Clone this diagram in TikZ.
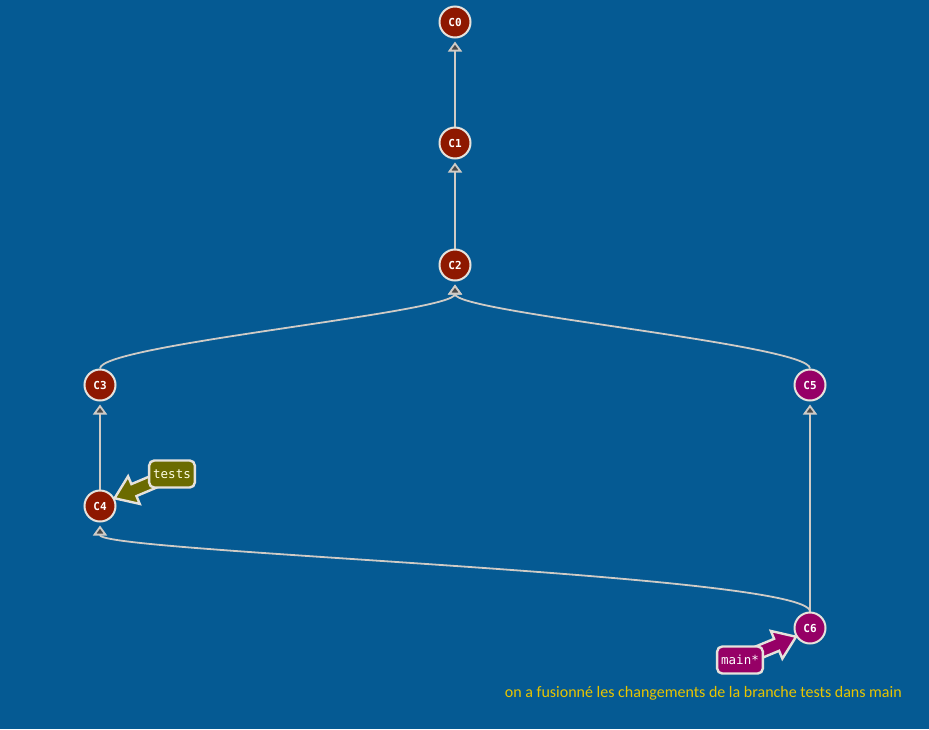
\documentclass[tikz,border=0pt]{standalone}
\usepackage{fontspec}
\setmainfont{Carlito}
\newfontfamily\monofont{DejaVu Sans Mono}
\usetikzlibrary{arrows.meta,calc}
\definecolor{bg}{HTML}{055A93}
\definecolor{cred}{HTML}{8E1800}
\definecolor{cmag}{HTML}{960066}
\definecolor{colive}{HTML}{6B6B00}
\definecolor{ring}{HTML}{E6E2DC}
\definecolor{edgec}{HTML}{CFCBC6}
\definecolor{tipc}{HTML}{4A4A4A}
\definecolor{capc}{HTML}{E8C400}
\pgfdeclarelayer{bgfill}
\pgfdeclarelayer{under}
\pgfsetlayers{bgfill,under,main}
\tikzset{
  commit/.style={circle, draw=ring, line width=2pt, minimum size=31pt, inner sep=0pt,
    text=white, font=\monofont\bfseries\fontsize{11}{11}\selectfont},
  oldc/.style={commit, fill=cred},
  newc/.style={commit, fill=cmag},
  link/.style={draw=edgec, line width=1.8pt, shorten >=3pt,
    -{Triangle[length=10pt,width=14pt,fill=tipc]}},
  lbl/.style={draw=ring, line width=2.4pt, rounded corners=5pt, inner xsep=4pt,
    minimum height=27pt, text=white, font=\monofont\fontsize{12.5}{13}\selectfont},
  fatarrow/.style={draw=ring, line width=2.4pt, line join=miter}
}
\begin{document}
\begin{tikzpicture}[x=1pt,y=-1pt]
\begin{pgfonlayer}{bgfill}
\fill[bg] (0,0) rectangle (929,729);
\end{pgfonlayer}
\useasboundingbox (0,0) rectangle (929,729);

\node[oldc] (C0) at (455,22) {C0};
\node[oldc] (C1) at (455,143) {C1};
\node[oldc] (C2) at (455,265) {C2};
\node[oldc] (C3) at (100,385) {C3};
\node[oldc] (C4) at (100,506) {C4};
\node[newc] (C5) at (810,385) {C5};
\node[newc] (C6) at (810,628) {C6};

\node[lbl, fill=colive, text=white!90!yellow] (tests) at (172,474) {tests};
\node[lbl, fill=cmag] (main) at (740,660) {main*};

\begin{pgfonlayer}{under}
\draw[link] (C1.north) -- (C0.south);
\draw[link] (C2.north) -- (C1.south);
\draw[link] (C3.north) .. controls +(0,-24) and +(0,31) .. (C2.south);
\draw[link] (C5.north) .. controls +(0,-24) and +(0,31) .. (C2.south);
\draw[link] (C4.north) -- (C3.south);
\draw[link] (C6.north) -- (C5.south);
\draw[link] (C6.north) .. controls +(0,-37) and +(0,30) .. (C4.south);

% label arrows
\coordinate (tT) at (C4.28);
\coordinate (tS) at (tests.center);
\coordinate (tA) at ($(tT)!21pt!(tS)$);
\filldraw[fatarrow, fill=colive]
  ($(tS)!6.5pt!90:(tT)$) -- ($(tA)!6.5pt!90:(tT)$) -- ($(tA)!15pt!90:(tT)$) -- (tT)
  -- ($(tA)!15pt!-90:(tT)$) -- ($(tA)!6.5pt!-90:(tT)$) -- ($(tS)!6.5pt!-90:(tT)$) -- cycle;
\coordinate (mT) at (C6.212);
\coordinate (mS) at (main.center);
\coordinate (mA) at ($(mT)!21pt!(mS)$);
\filldraw[fatarrow, fill=cmag]
  ($(mS)!6.5pt!90:(mT)$) -- ($(mA)!6.5pt!90:(mT)$) -- ($(mA)!15pt!90:(mT)$) -- (mT)
  -- ($(mA)!15pt!-90:(mT)$) -- ($(mA)!6.5pt!-90:(mT)$) -- ($(mS)!6.5pt!-90:(mT)$) -- cycle;
\end{pgfonlayer}

\node[anchor=east, text=capc, font=\fontsize{16}{18}\selectfont, inner sep=0pt] (cap) at (902,693)
  {on a fusionné les changements de la branche tests dans main};
\end{tikzpicture}
\end{document}
